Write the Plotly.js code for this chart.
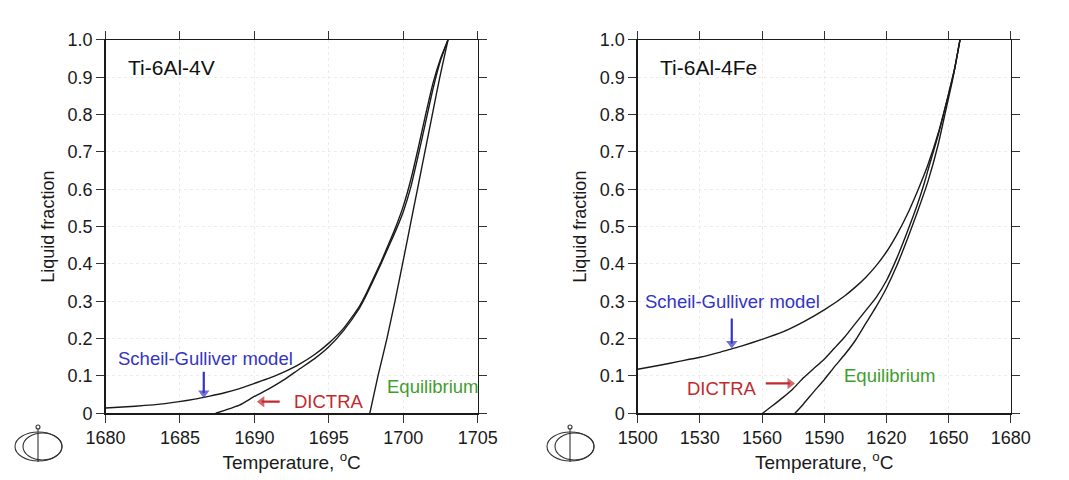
<!DOCTYPE html>
<html>
<head>
<meta charset="utf-8">
<script src="https://cdn.plot.ly/plotly-3.0.1.min.js"></script>
<style>
  html, body { margin: 0; padding: 0; background: #fff; }
  #chart { width: 1069px; height: 480px; }
</style>
</head>
<body>
<div id="chart"></div>
<script>
// Ti-6Al-4V (left panel)
const vTempScheil = [1680, 1682, 1684, 1686, 1687, 1688, 1689, 1690, 1691, 1692, 1693, 1694, 1695, 1696, 1697, 1697.5, 1698, 1698.5, 1699, 1699.5, 1700, 1700.5, 1701, 1701.5, 1702, 1702.5, 1703]
const vFracScheil = [0.014, 0.019, 0.026, 0.038, 0.046, 0.055, 0.066, 0.08, 0.094, 0.111, 0.131, 0.156, 0.188, 0.228, 0.283, 0.32, 0.362, 0.405, 0.452, 0.5, 0.555, 0.625, 0.71, 0.8, 0.885, 0.95, 1.0]
const vTempDictra = [1687.4, 1688, 1689, 1690, 1691, 1692, 1693, 1694, 1695, 1696, 1697, 1697.5, 1698, 1698.5, 1699, 1699.5, 1700, 1700.5, 1701, 1701.5, 1702, 1702.5, 1703]
const vFracDictra = [0, 0.008, 0.022, 0.045, 0.066, 0.09, 0.118, 0.145, 0.178, 0.222, 0.278, 0.315, 0.357, 0.4, 0.445, 0.49, 0.54, 0.605, 0.69, 0.78, 0.87, 0.945, 1.0]
const vTempEquil = [1697.75, 1698.3, 1698.9, 1699.44, 1699.95, 1700.45, 1700.95, 1701.45, 1701.95, 1702.45, 1703]
const vFracEquil = [0, 0.1, 0.2, 0.3, 0.4, 0.5, 0.6, 0.7, 0.8, 0.9, 1.0]

// Ti-6Al-4Fe (right panel)
const feTempScheil = [1500, 1510, 1520, 1530, 1540, 1545, 1550, 1560, 1570, 1580, 1590, 1600, 1605, 1610, 1615, 1620, 1625, 1630, 1635, 1640, 1645, 1650, 1653, 1655.5]
const feFracScheil = [0.118, 0.128, 0.139, 0.15, 0.164, 0.172, 0.18, 0.198, 0.218, 0.245, 0.277, 0.315, 0.338, 0.364, 0.395, 0.432, 0.478, 0.532, 0.595, 0.665, 0.75, 0.855, 0.925, 1.0]
const feTempDictra = [1560.3, 1565, 1570, 1575, 1580, 1585, 1590, 1595, 1600, 1605, 1610, 1615, 1620, 1625, 1630, 1635, 1638.2, 1640, 1645, 1650, 1653, 1655.5]
const feFracDictra = [0, 0.02, 0.042, 0.066, 0.095, 0.12, 0.145, 0.175, 0.205, 0.24, 0.275, 0.31, 0.355, 0.415, 0.485, 0.56, 0.615, 0.65, 0.745, 0.855, 0.925, 1.0]
const feTempEquil = [1575.9, 1580, 1585, 1590, 1595, 1600, 1605, 1610, 1615, 1620, 1625, 1630, 1635, 1640, 1645, 1648, 1652, 1655.5]
const feFracEquil = [0, 0.025, 0.058, 0.09, 0.125, 0.158, 0.195, 0.24, 0.285, 0.335, 0.395, 0.465, 0.54, 0.62, 0.72, 0.795, 0.895, 1.0]

// annotation arrows: [tail temperature, tail fraction, tip temperature, tip fraction]
const vArrowScheil = [1686.6, 0.111, 1686.6, 0.054]
const vArrowDictra = [1691.7, 0.031, 1690.5, 0.031]
const feArrowScheil = [1545.4, 0.254, 1545.4, 0.187]
const feArrowDictra = [1561.8, 0.08, 1573.5, 0.08]

const fracTicks = [0, 0.1, 0.2, 0.3, 0.4, 0.5, 0.6, 0.7, 0.8, 0.9, 1.0]
const fracLabels = ['0', '0.1', '0.2', '0.3', '0.4', '0.5', '0.6', '0.7', '0.8', '0.9', '1.0']
const vTempTicks = [1680, 1685, 1690, 1695, 1700, 1705]
const feTempTicks = [1500, 1530, 1560, 1590, 1620, 1650, 1680]

const FONT = 'Liberation Sans, Arial, sans-serif'
const BLUE = '#3434c4'
const RED = '#c22a2c'
const GREEN = '#3f9e2e'

function curve(x, y, xaxis, yaxis) {
  return {
    x, y, xaxis, yaxis,
    type: 'scatter',
    mode: 'lines',
    line: { color: '#1a1a1a', width: 1.4, shape: 'spline', smoothing: 0.5 },
    hoverinfo: 'skip',
    showlegend: false,
  }
}

function arrowTrace(a, xaxis, yaxis, color, symbol) {
  return {
    x: [a[0], a[2]], y: [a[1], a[3]], xaxis, yaxis,
    type: 'scatter',
    mode: 'lines+markers',
    line: { color, width: 2.2 },
    marker: { color, symbol: ['circle', symbol], size: [0, 10], line: { width: 0 } },
    hoverinfo: 'skip',
    showlegend: false,
  }
}

const data = [
  curve(vTempScheil, vFracScheil, 'x', 'y'),
  curve(vTempDictra, vFracDictra, 'x', 'y'),
  curve(vTempEquil, vFracEquil, 'x', 'y'),
  curve(feTempScheil, feFracScheil, 'x2', 'y2'),
  curve(feTempDictra, feFracDictra, 'x2', 'y2'),
  curve(feTempEquil, feFracEquil, 'x2', 'y2'),
  arrowTrace(vArrowScheil, 'x', 'y', BLUE, 'triangle-down'),
  arrowTrace(vArrowDictra, 'x', 'y', RED, 'triangle-left'),
  arrowTrace(feArrowScheil, 'x2', 'y2', BLUE, 'triangle-down'),
  arrowTrace(feArrowDictra, 'x2', 'y2', RED, 'triangle-right'),
]

function xAxis(domain, range, tickvals, anchor) {
  return {
    domain, range, tickvals, anchor,
    ticktext: tickvals.map(String),
    showline: true, mirror: 'ticks', linecolor: '#1a1a1a', linewidth: 1.3,
    ticks: 'outside', ticklen: 8, tickcolor: '#333', tickwidth: 1,
    showgrid: true, gridcolor: '#ececec', griddash: 'dot', gridwidth: 1,
    zeroline: false,
    tickfont: { family: FONT, size: 18, color: '#1a1a1a' },
    title: { text: 'Temperature, <sup>o</sup>C', standoff: 8, font: { family: FONT, size: 19, color: '#1a1a1a' } },
  }
}

function yAxis(anchor) {
  return {
    domain: [0.139, 0.9167], range: [0, 1], anchor,
    tickvals: fracTicks, ticktext: fracLabels,
    showline: true, mirror: 'ticks', linecolor: '#1a1a1a', linewidth: 1.3,
    ticks: 'outside', ticklen: 8, tickcolor: '#333', tickwidth: 1,
    showgrid: true, gridcolor: '#ececec', griddash: 'dot', gridwidth: 1,
    zeroline: false,
    tickfont: { family: FONT, size: 18, color: '#1a1a1a' },
    title: { text: 'Liquid fraction', standoff: 8, font: { family: FONT, size: 18, color: '#1a1a1a' } },
  }
}

function label(xref, yref, x, y, text, color, size) {
  return {
    xref, yref, x, y, text, showarrow: false,
    xanchor: 'left', yanchor: 'middle',
    font: { family: FONT, size, color },
  }
}

const annotations = [
  label('x', 'y', 1681.4, 0.927, 'Ti-6Al-4V', '#111', 21),
  label('x', 'y', 1680.7, 0.147, 'Scheil-Gulliver model', BLUE, 18.5),
  label('x', 'y', 1692.5, 0.031, 'DICTRA', RED, 18.5),
  label('x', 'y', 1698.75, 0.073, 'Equilibrium', GREEN, 18.5),

  label('x2', 'y2', 1510, 0.925, 'Ti-6Al-4Fe', '#111', 21),
  label('x2', 'y2', 1502.7, 0.299, 'Scheil-Gulliver model', BLUE, 18.5),
  label('x2', 'y2', 1522.8, 0.067, 'DICTRA', RED, 18.5),
  label('x2', 'y2', 1598.4, 0.1, 'Equilibrium', GREEN, 18.5),
]

// small logo in the lower left corner of each panel
function logo(left) {
  const W = 1069, H = 480
  const px = (v) => (left + v) / W
  const py = (v) => 1 - v / H
  const line = { color: '#333', width: 1.1 }
  return [
    { type: 'circle', xref: 'paper', yref: 'paper', x0: px(0), x1: px(47), y0: py(461), y1: py(432), line },
    { type: 'circle', xref: 'paper', yref: 'paper', x0: px(8), x1: px(47), y0: py(460), y1: py(433), line },
    { type: 'line', xref: 'paper', yref: 'paper', x0: px(23), x1: px(23), y0: py(462), y1: py(429), line },
    { type: 'circle', xref: 'paper', yref: 'paper', x0: px(21), x1: px(25), y0: py(429), y1: py(425), line },
  ]
}

const layout = {
  width: 1069,
  height: 480,
  margin: { l: 0, r: 0, t: 0, b: 0 },
  paper_bgcolor: '#fff',
  plot_bgcolor: '#fff',
  showlegend: false,
  xaxis: xAxis([0.0987, 0.4469], [1680, 1705], vTempTicks, 'y'),
  yaxis: yAxis('x'),
  xaxis2: xAxis([0.5965, 0.9455], [1500, 1680], feTempTicks, 'y2'),
  yaxis2: yAxis('x2'),
  annotations,
  shapes: [...logo(15), ...logo(547)],
}

Plotly.newPlot('chart', data, layout, { displayModeBar: false, staticPlot: true })
</script>
</body>
</html>
